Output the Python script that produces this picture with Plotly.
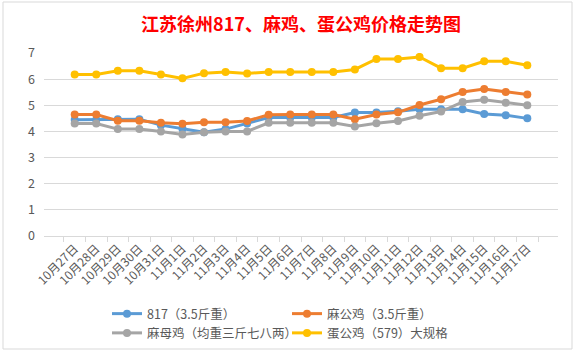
import plotly.graph_objects as go

dates = ["10月27日", "10月28日", "10月29日", "10月30日", "10月31日", "11月1日", "11月2日",
         "11月3日", "11月4日", "11月5日", "11月6日", "11月7日", "11月8日", "11月9日",
         "11月10日", "11月11日", "11月12日", "11月13日", "11月14日", "11月15日", "11月16日", "11月17日"]

s817 = [4.45, 4.45, 4.47, 4.47, 4.24, 4.10, 3.97, 4.09, 4.30, 4.53, 4.53,
        4.53, 4.53, 4.72, 4.72, 4.77, 4.85, 4.85, 4.85, 4.67, 4.62, 4.50]
magongji = [4.65, 4.65, 4.41, 4.41, 4.33, 4.29, 4.35, 4.35, 4.40, 4.64, 4.65,
            4.65, 4.65, 4.47, 4.65, 4.73, 5.01, 5.23, 5.51, 5.62, 5.51, 5.41]
mamuji = [4.30, 4.30, 4.09, 4.09, 4.00, 3.88, 3.97, 4.00, 4.00, 4.33, 4.33,
          4.33, 4.33, 4.19, 4.31, 4.40, 4.60, 4.76, 5.13, 5.21, 5.10, 5.00]
dangongji = [6.18, 6.18, 6.32, 6.32, 6.18, 6.03, 6.23, 6.27, 6.22, 6.27, 6.27,
             6.27, 6.27, 6.37, 6.77, 6.77, 6.85, 6.42, 6.42, 6.68, 6.68, 6.53]

names = ["817（3.5斤重）", "麻公鸡（3.5斤重）", "麻母鸡（均重三斤七八两）", "蛋公鸡（579）大规格"]
colors = ["#5B9BD5", "#ED7D31", "#A5A5A5", "#FFC000"]
series = [s817, magongji, mamuji, dangongji]

FONT = "Noto Sans CJK SC"

fig = go.Figure()
for name, col, ys in zip(names, colors, series):
    fig.add_trace(go.Scatter(
        x=dates, y=ys, name=name, mode="lines+markers",
        line=dict(color=col, width=3),
        marker=dict(color=col, size=8),
    ))

W, H = 575, 352
L, R, T, B = 44, 17, 53, 116
pw, ph = W - L - R, H - T - B

def px(x):
    return (x - L) / pw

def py(y):
    return (H - B - y) / ph

fig.update_layout(
    width=W, height=H,
    margin=dict(l=L, r=R, t=T, b=B, autoexpand=False),
    paper_bgcolor="white", plot_bgcolor="white",
    font=dict(family=FONT, color="#595959", size=12),
    title=dict(text="<b>江苏徐州817、麻鸡、蛋公鸡价格走势图</b>",
               font=dict(family=FONT, color="#FF0000", size=18),
               x=0.5, xref="paper", xanchor="center",
               y=1 - 25 / H, yanchor="middle"),
    showlegend=True,
    legend=dict(orientation="h", x=px(107), xanchor="left",
                y=py(299), yanchor="top",
                entrywidth=135, font=dict(size=12.5, color="#595959", family=FONT),
                bgcolor="rgba(0,0,0,0)", tracegroupgap=0),
    xaxis=dict(type="category", showgrid=False, showline=True, linecolor="#D9D9D9",
               linewidth=1, ticks="outside", tickson="boundaries", ticklen=5,
               tickcolor="#D9D9D9", tickangle=-45, automargin=False,
               tickfont=dict(size=12, color="#595959", family=FONT)),
    yaxis=dict(range=[0, 7], dtick=1, showgrid=True, gridcolor="#D9D9D9",
               zeroline=False, showline=False, ticks="", automargin=False,
               ticklabelstandoff=8,
               tickfont=dict(size=12.5, color="#595959", family=FONT)),
    shapes=[dict(type="rect", xref="paper", yref="paper",
                 x0=px(3), x1=px(572), y0=py(349), y1=py(2),
                 line=dict(color="#D9D9D9", width=1), fillcolor="rgba(0,0,0,0)",
                 layer="below")],
)

fig.write_html("out.html")
